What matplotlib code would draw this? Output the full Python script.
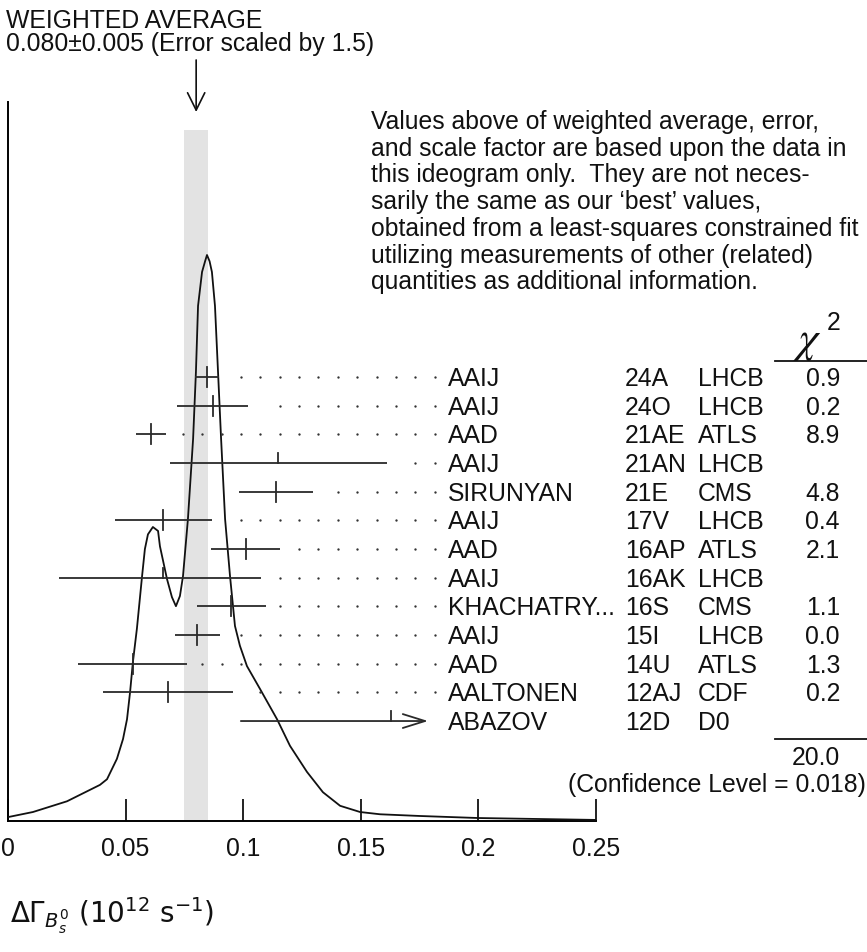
import numpy as np
import matplotlib.pyplot as plt
from matplotlib.lines import Line2D
from matplotlib.transforms import blended_transform_factory

plt.rcParams['font.family'] = ['Liberation Sans', 'DejaVu Sans']
plt.rcParams['mathtext.fontset'] = 'dejavusans'

# measurements (top to bottom)
authors = ['AAIJ', 'AAIJ', 'AAD', 'AAIJ', 'SIRUNYAN', 'AAIJ', 'AAD', 'AAIJ',
           'KHACHATRY...', 'AAIJ', 'AAD', 'AALTONEN', 'ABAZOV']
refs = ['24A', '24O', '21AE', '21AN', '21E', '17V', '16AP', '16AK',
        '16S', '15I', '14U', '12AJ', '12D']
experiments = ['LHCB', 'LHCB', 'ATLS', 'LHCB', 'CMS', 'LHCB', 'ATLS', 'LHCB',
               'CMS', 'LHCB', 'ATLS', 'CDF', 'D0']
values = [0.0845, 0.087, 0.0607, 0.115, 0.114, 0.066, 0.101, 0.066,
          0.095, 0.0805, 0.053, 0.068, 0.163]
err_lo = [0.0050, 0.015, 0.0064, 0.046, 0.0156, 0.0206, 0.0148, 0.0444,
          0.0148, 0.0097, 0.0233, 0.0275, 0.064]
err_hi = [0.0050, 0.015, 0.0064, 0.046, 0.0156, 0.0206, 0.0148, 0.0416,
          0.0148, 0.0097, 0.0233, 0.0275, 0.065]
chi2 = ['0.9', '0.2', '8.9', '', '4.8', '0.4', '2.1', '',
        '1.1', '0.0', '1.3', '0.2', '']
chi2_total = '20.0'
conf_level = '0.018'

wavg = 0.080
wavg_err = 0.005
err_scale = 1.5

# ideogram curve (height relative to peak)
ideo_x = [0.0, 0.0106, 0.0251, 0.0391, 0.0421, 0.0463, 0.0489, 0.0506, 0.0519,
          0.0531, 0.0548, 0.0570, 0.0582, 0.0595, 0.0616, 0.0638, 0.0646, 0.0676,
          0.0697, 0.0714, 0.0731, 0.0744, 0.0765, 0.0787, 0.0799, 0.0808, 0.0825,
          0.0838, 0.0846, 0.0857, 0.0867, 0.0880, 0.0893, 0.0906, 0.0923, 0.0944,
          0.0965, 0.0986, 0.1016, 0.1071, 0.1144, 0.1199, 0.1271, 0.1339, 0.1412,
          0.1497, 0.1582, 0.175, 0.1998, 0.25]
ideo_y = [0.006, 0.015, 0.034, 0.063, 0.073, 0.109, 0.144, 0.179, 0.227,
          0.280, 0.339, 0.432, 0.480, 0.506, 0.519, 0.512, 0.485, 0.427,
          0.395, 0.379, 0.397, 0.432, 0.533, 0.675, 0.793, 0.910, 0.970,
          0.989, 1.0, 0.989, 0.970, 0.910, 0.793, 0.675, 0.533, 0.432,
          0.344, 0.309, 0.273, 0.233, 0.179, 0.132, 0.086, 0.050, 0.026,
          0.015, 0.011, 0.008, 0.0044, 0.001]

xticks = [0, 0.05, 0.1, 0.15, 0.2, 0.25]
xtick_labels = ['0', '0.05', '0.1', '0.15', '0.2', '0.25']

paragraph = ["Values above of weighted average, error,",
             "and scale factor are based upon the data in",
             "this ideogram only.  They are not neces-",
             "sarily the same as our \u2018best\u2019 values,",
             "obtained from a least-squares constrained fit",
             "utilizing measurements of other (related)",
             "quantities as additional information."]

W, H = 867, 953
FS = 17.8
INK = '#111111'
BAR = '#2a2a2a'
ARROW_END = 0.1786


def fx(px):
    return px / W


def fy(py):
    return 1 - py / H


fig = plt.figure(figsize=(W / 100, H / 100), dpi=100)
rect = [fx(8), fy(821.5), fx(596) - fx(8), fy(103) - fy(821.5)]

ax = fig.add_axes(rect)
ax.set_xlim(0, 0.25)
ax.set_ylim(0, 718.5 / 565.5)
ax.patch.set_visible(False)
ax.spines['top'].set_visible(False)
ax.spines['right'].set_visible(False)
ax.spines['left'].set_linewidth(1.4)
ax.spines['bottom'].set_linewidth(1.4)
ax.set_yticks([])
ax.set_xticks(xticks)
ax.set_xticklabels(xtick_labels)
ax.tick_params(axis='x', direction='in', length=16, width=1.3, pad=11,
               labelsize=FS, colors=INK)

ax.axvspan(wavg - wavg_err, wavg + wavg_err, ymin=0, ymax=(821.5 - 131) / 718.5,
           color='#e3e3e3', lw=0, zorder=0)
ax.plot(ideo_x, ideo_y, color=INK, lw=1.3, zorder=3)

# rows axis: measurement k sits at y = k
axr = fig.add_axes(rect, sharex=ax)
axr.set_ylim(15.47, -9.595)
axr.axis('off')
axr.set_xlim(0, 0.25)

dot_x = 0.0744 + 0.00823 * np.arange(14)
for i, (v, lo, hi) in enumerate(zip(values, err_lo, err_hi)):
    used = chi2[i] != ''
    if v + hi > ARROW_END:
        axr.annotate('', xy=(ARROW_END, i), xytext=(v - lo, i),
                     arrowprops=dict(arrowstyle='->,head_length=1.6,head_width=0.5',
                                     mutation_scale=10, lw=1.3, color=BAR,
                                     shrinkA=0, shrinkB=0),
                     annotation_clip=False)
    else:
        axr.plot([v - lo, v + hi], [i, i], color=BAR, lw=1.3,
                 solid_capstyle='butt', clip_on=False)
        xs = dot_x[dot_x > v + hi + 0.00536]
        axr.plot(xs, [i] * len(xs), ls='none', marker='o', ms=1.7, mew=0,
                 color='#333333', clip_on=False)
    top = i - 0.35
    bottom = i + 0.35 if used else i
    axr.plot([v, v], [top, bottom], color=BAR, lw=1.3, clip_on=False)

trans = blended_transform_factory(fig.transFigure, axr.transData)
for i in range(len(authors)):
    yb = i + 0.28
    axr.text(fx(448), yb, authors[i], transform=trans, fontsize=FS,
             va='baseline', color=INK)
    axr.text(fx(625), yb, refs[i], transform=trans, fontsize=FS,
             va='baseline', color=INK)
    axr.text(fx(698), yb, experiments[i], transform=trans, fontsize=FS,
             va='baseline', color=INK)
    if chi2[i]:
        axr.text(fx(840), yb, chi2[i], transform=trans, fontsize=FS,
                 va='baseline', ha='right', color=INK)

# chi2 header and total
fig.text(fx(807), fy(352), r'$\chi$', fontsize=32, math_fontfamily='stix',
         ha='center', va='baseline', color=INK)
fig.text(fx(841), fy(330), '2', fontsize=FS, ha='right', va='baseline', color=INK)
fig.add_artist(Line2D([fx(775), fx(867)], [fy(362), fy(362)], lw=1.3, color=INK))
fig.add_artist(Line2D([fx(775), fx(867)], [fy(740), fy(740)], lw=1.3, color=INK))
fig.text(fx(840), fy(765), chi2_total, fontsize=FS, ha='right', va='baseline',
         color=INK)
fig.text(fx(866), fy(792), '(Confidence Level = %s)' % conf_level, fontsize=FS,
         ha='right', va='baseline', color=INK)

# weighted average header (one two-line block) and arrow
header = 'WEIGHTED AVERAGE\n%.3f\u00b1%.3f (Error scaled by %.1f)' % (
    wavg, wavg_err, err_scale)
fig.text(fx(6), fy(9), header, fontsize=FS, va='top', linespacing=0.97,
         color=INK)
tr_arrow = blended_transform_factory(ax.transData, fig.transFigure)
ax.annotate('', xy=(wavg, fy(113)), xycoords=tr_arrow,
            xytext=(wavg, fy(61)), textcoords=tr_arrow,
            arrowprops=dict(arrowstyle='->,head_length=1.25,head_width=0.62',
                            mutation_scale=10, lw=1.2, color=INK,
                            shrinkA=0, shrinkB=0),
            annotation_clip=False)

for k, line in enumerate(paragraph):
    fig.text(fx(371), fy(129 + 26.7 * k), line, fontsize=FS, va='baseline',
             color=INK)

fig.text(fx(10), fy(924), r'$\Delta\Gamma_{B_s^0}\ (10^{12}\ \mathrm{s}^{-1})$',
         fontsize=20, va='baseline', color=INK)

fig.savefig('out.png', dpi=100)
